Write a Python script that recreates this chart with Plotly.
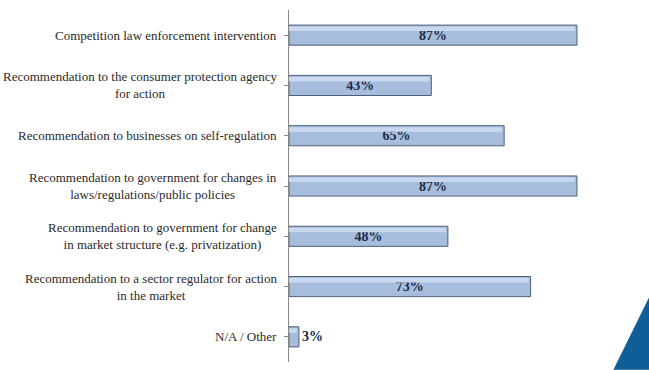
import plotly.graph_objects as go

categories = [
    "Competition law enforcement intervention",
    "Recommendation to the consumer protection agency<br>for action",
    "Recommendation to businesses on self-regulation",
    "Recommendation to government for changes in<br>laws/regulations/public policies",
    "Recommendation to government for change<br>in market structure (e.g. privatization)",
    "Recommendation to a sector regulator for action<br>in the market",
    "N/A / Other",
]
values = [87, 43, 65, 87, 48, 73, 3]
value_labels = [f"{v}%" for v in values]

ypos = list(range(len(categories)))
SERIF = "Times New Roman, Liberation Serif, serif"

fig = go.Figure()
fig.add_trace(go.Bar(
    y=ypos, x=values, orientation="h", width=0.4,
    marker=dict(color="#a6bddc", line=dict(color="#4f5f78", width=1)),
    text=value_labels, textposition="auto", insidetextanchor="middle",
    constraintext="none", cliponaxis=False,
    textfont=dict(family=SERIF, size=14, color="#1c2a48", weight="bold"),
    outsidetextfont=dict(family=SERIF, size=14, color="#1c2a48", weight="bold"),
    hoverinfo="skip", showlegend=False,
))
fig.add_trace(go.Bar(
    y=ypos, x=[v - 0.6 for v in values], orientation="h", width=0.09, offset=-0.17,
    marker=dict(color="#c9d8ee", line=dict(width=0)),
    hoverinfo="skip", showlegend=False,
))

for i, c in enumerate(categories):
    fig.add_annotation(
        x=-0.03, xref="paper", y=i, yref="y", text=c, showarrow=False,
        xanchor="right", yanchor="middle", align="center",
        font=dict(family=SERIF, size=13, color="#2a2a2a"),
    )

fig.add_shape(
    type="path", xref="paper", yref="paper",
    path="M 1.0886 -0.022 L 1.0886 0.185 L 0.98 -0.022 Z",
    fillcolor="#0f5e98", line=dict(width=0), layer="above",
)

fig.update_layout(
    width=649, height=370,
    margin=dict(l=289, r=29, t=10, b=8),
    paper_bgcolor="white", plot_bgcolor="white",
    barmode="overlay",
    xaxis=dict(range=[0, 100], visible=False),
    yaxis=dict(
        range=[6.5, -0.5], tickmode="array", tickvals=ypos,
        showticklabels=False, tickson="boundaries",
        ticks="outside", ticklen=4, tickcolor="#888888",
        showline=True, linecolor="#888888", linewidth=1,
        showgrid=False, zeroline=False,
    ),
)

fig.write_html("out.html")
